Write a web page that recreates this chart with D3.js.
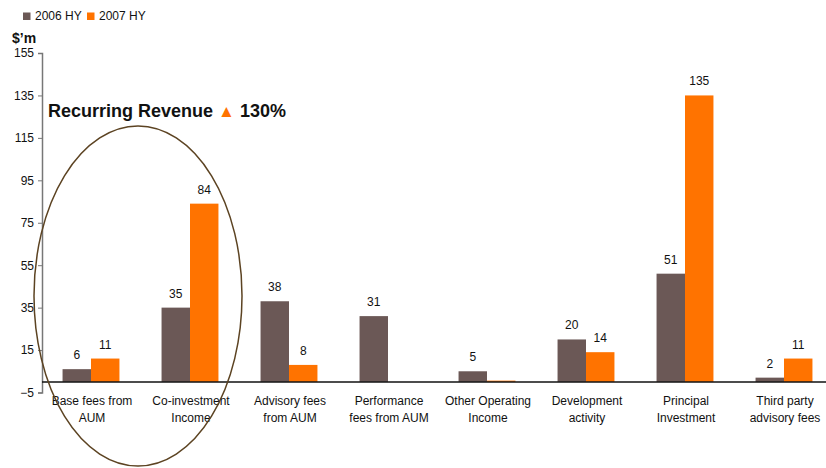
<!DOCTYPE html>
<html>
<head>
<meta charset="utf-8">
<script src="https://cdn.jsdelivr.net/npm/d3@7"></script>
<style>
  body { margin: 0; background: #fff; }
  svg { font-family: "Liberation Sans", Arial, sans-serif; }
</style>
</head>
<body>
<svg id="svg" width="826" height="468"></svg>
<script>
// data
var categories = [
  ["Base fees from", "AUM"],
  ["Co-investment", "Income"],
  ["Advisory fees", "from AUM"],
  ["Performance", "fees from AUM"],
  ["Other Operating", "Income"],
  ["Development", "activity"],
  ["Principal", "Investment"],
  ["Third party", "advisory fees"]
];
var series = ["2006 HY", "2007 HY"];
var values2006 = [6, 35, 38, 31, 5, 20, 51, 2];
var values2007 = [11, 84, 8, 0, 0.6, 14, 135, 11];
var labels2006 = ["6", "35", "38", "31", "5", "20", "51", "2"];
var labels2007 = ["11", "84", "8", "", "", "14", "135", "11"];
var yTicks = [-5, 15, 35, 55, 75, 95, 115, 135, 155];

var colors = ["#6b5856", "#ff7300"];

var svg = d3.select("#svg");

var y = d3.scaleLinear().domain([-5, 155]).range([392.5, 53]);
var x0 = d3.scaleBand().domain(d3.range(categories.length)).range([41.5, 833.5]).paddingInner(0).paddingOuter(0);
var x1 = d3.scaleBand().domain([0, 1]).range([0, x0.bandwidth()]).paddingInner(0).paddingOuter(0.74);

// y axis
var yAxis = svg.append("g")
    .attr("transform", "translate(42,0)")
    .call(d3.axisLeft(y).tickValues(yTicks).tickSize(4).tickPadding(4).tickFormat(d3.format("d")));
yAxis.select(".domain").attr("stroke", "#777").attr("stroke-width", 1.5);
yAxis.selectAll(".tick line").attr("stroke", "#777");
yAxis.selectAll("text").attr("font-size", 12).attr("fill", "#111").attr("font-family", "Liberation Sans, Arial, sans-serif");

// bars
var groups = svg.append("g").selectAll("g")
    .data(categories)
    .join("g")
    .attr("transform", function(d, i) { return "translate(" + x0(i) + ",0)"; });

[values2006, values2007].forEach(function(vals, s) {
  groups.append("rect")
      .attr("x", x1(s))
      .attr("width", x1.bandwidth())
      .attr("y", function(d, i) { return y(Math.max(0, vals[i])); })
      .attr("height", function(d, i) { return Math.abs(y(vals[i]) - y(0)); })
      .attr("fill", colors[s]);
});

[labels2006, labels2007].forEach(function(labs, s) {
  var vals = s == 0 ? values2006 : values2007;
  groups.append("text")
      .attr("x", x1(s) + x1.bandwidth() / 2)
      .attr("y", function(d, i) { return y(vals[i]) - 10; })
      .attr("text-anchor", "middle")
      .attr("font-size", 12)
      .attr("fill", "#111")
      .text(function(d, i) { return labs[i]; });
});

// zero line
svg.append("line")
    .attr("x1", 42).attr("x2", 826)
    .attr("y1", y(0)).attr("y2", y(0))
    .attr("stroke", "#111").attr("stroke-width", 1.5);

// category labels
groups.append("text")
    .attr("x", x0.bandwidth() / 2 + 1)
    .attr("y", 405)
    .attr("text-anchor", "middle")
    .attr("font-size", 12)
    .attr("fill", "#111")
    .selectAll("tspan")
    .data(function(d) { return d; })
    .join("tspan")
    .attr("x", x0.bandwidth() / 2 + 1)
    .attr("dy", function(d, i) { return i == 0 ? 0 : 16.5; })
    .text(function(d) { return d; });

// legend
var legend = svg.append("g");
series.forEach(function(s, i) {
  var lx = 23 + i * 64;
  legend.append("rect").attr("x", lx).attr("y", 12.5).attr("width", 7.5).attr("height", 7.5).attr("fill", colors[i]);
  legend.append("text").attr("x", lx + 12).attr("y", 20).attr("font-size", 12).attr("fill", "#111").text(s);
});

// unit
svg.append("text").attr("x", 12).attr("y", 43).attr("font-size", 14).attr("font-weight", "bold").attr("fill", "#111").text("$\u2019m");

// annotation
svg.append("ellipse")
    .attr("cx", 138).attr("cy", 296)
    .attr("rx", 104).attr("ry", 170)
    .attr("fill", "none")
    .attr("stroke", "#5c4322")
    .attr("stroke-width", 1.5);

var ann = svg.append("text").attr("x", 48).attr("y", 117).attr("font-size", 18).attr("font-weight", "bold").attr("fill", "#111");
ann.append("tspan").text("Recurring Revenue ");
ann.append("tspan").attr("fill", "#ff7300").attr("font-size", 17).text("\u25B2");
ann.append("tspan").text(" 130%");
</script>
</body>
</html>
